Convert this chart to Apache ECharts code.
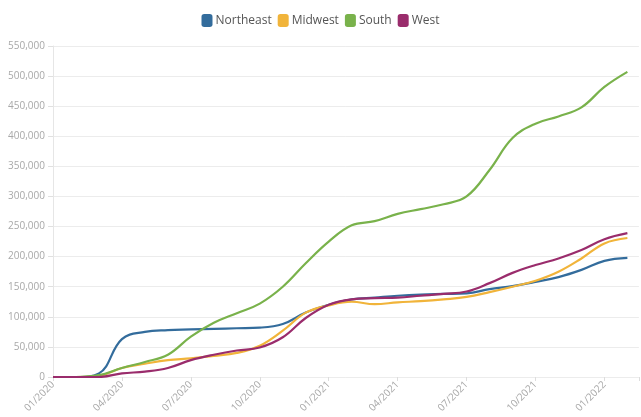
<!DOCTYPE html>
<html>
<head>
<meta charset="utf-8">
<script src="https://cdn.jsdelivr.net/npm/echarts@6/dist/echarts.min.js"></script>
<style>
html,body{margin:0;padding:0;background:#fff;}
#chart{width:641px;height:417px;}
</style>
</head>
<body>
<div id="chart"></div>
<script>
const months = ['01/2020','02/2020','03/2020','04/2020','05/2020','06/2020','07/2020','08/2020','09/2020','10/2020','11/2020','12/2020',
  '01/2021','02/2021','03/2021','04/2021','05/2021','06/2021','07/2021','08/2021','09/2021','10/2021','11/2021','12/2021',
  '01/2022','02/2022'];
const tickLabels = ['01/2020','04/2020','07/2020','10/2020','01/2021','04/2021','07/2021','10/2021','01/2022'];
const seriesNames = ['Northeast','Midwest','South','West'];
const northeast = [0,0,6000,63000,75000,78000,79000,80000,81000,82000,88000,107000,120000,129000,132000,135000,137000,138000,139000,146000,151000,158000,166000,178000,193000,198000];
const midwest   = [0,0,2000,15000,22000,28000,31000,35000,40000,52000,77000,107000,119000,125000,121000,124000,126000,129000,133000,141000,150000,160000,175000,197000,222000,231000];
const south     = [0,0,3000,15000,25000,37000,67000,90000,106000,122000,150000,189000,225000,252000,259000,271000,279000,287000,300000,344000,397000,421000,433000,448000,482000,507000];
const west      = [0,0,0,6000,9000,15000,28000,37000,44000,49000,66000,98000,120000,129000,131000,132000,135000,138000,142000,156000,173000,186000,197000,211000,229000,239000];
const colors = ['#336c9c','#f1b43a','#79b24b','#9a2c6c'];

const allData = [northeast, midwest, south, west];
const chart = echarts.init(document.getElementById('chart'), null, {renderer:'canvas'});
chart.setOption({
  animation:false,
  color: colors,
  textStyle:{fontFamily:'Open Sans'},
  legend:{
    top:9, left:'center',
    icon:'roundRect', itemWidth:11, itemHeight:13, itemGap:6,
    textStyle:{color:'#555', fontSize:12, fontFamily:'Open Sans', padding:[0,0,0,-2]},
    data: seriesNames
  },
  grid:{left:53, right:0, top:46, bottom:40, containLabel:false},
  xAxis:{
    type:'value', min:0, max:25.5, interval:3,
    axisLine:{show:false},
    axisTick:{show:true, length:4, lineStyle:{color:'#ddd'}},
    splitLine:{show:false},
    axisLabel:{
      rotate:45, color:'#a8a8a8', fontSize:10, margin:6,
      formatter: v => (v % 3 === 0 && tickLabels[v/3]) ? tickLabels[v/3] : ''
    }
  },
  yAxis:{
    type:'value', min:0, max:550000, interval:50000,
    axisLine:{show:true, lineStyle:{color:'#e6e6e6'}},
    axisTick:{show:true, length:5, lineStyle:{color:'#e0e0e0'}},
    splitLine:{lineStyle:{color:'#ececec', width:1}},
    axisLabel:{color:'#a8a8a8', fontSize:10, margin:8,
      formatter: v => v.toLocaleString('en-US')}
  },
  series: seriesNames.map((n,i)=>({
    name:n, type:'line', smooth:0.4, showSymbol:false, symbol:'none',
    lineStyle:{width:2.2, color:colors[i]},
    data: allData[i].map((v,k)=>[k, v])
  }))
});
</script>
</body>
</html>
